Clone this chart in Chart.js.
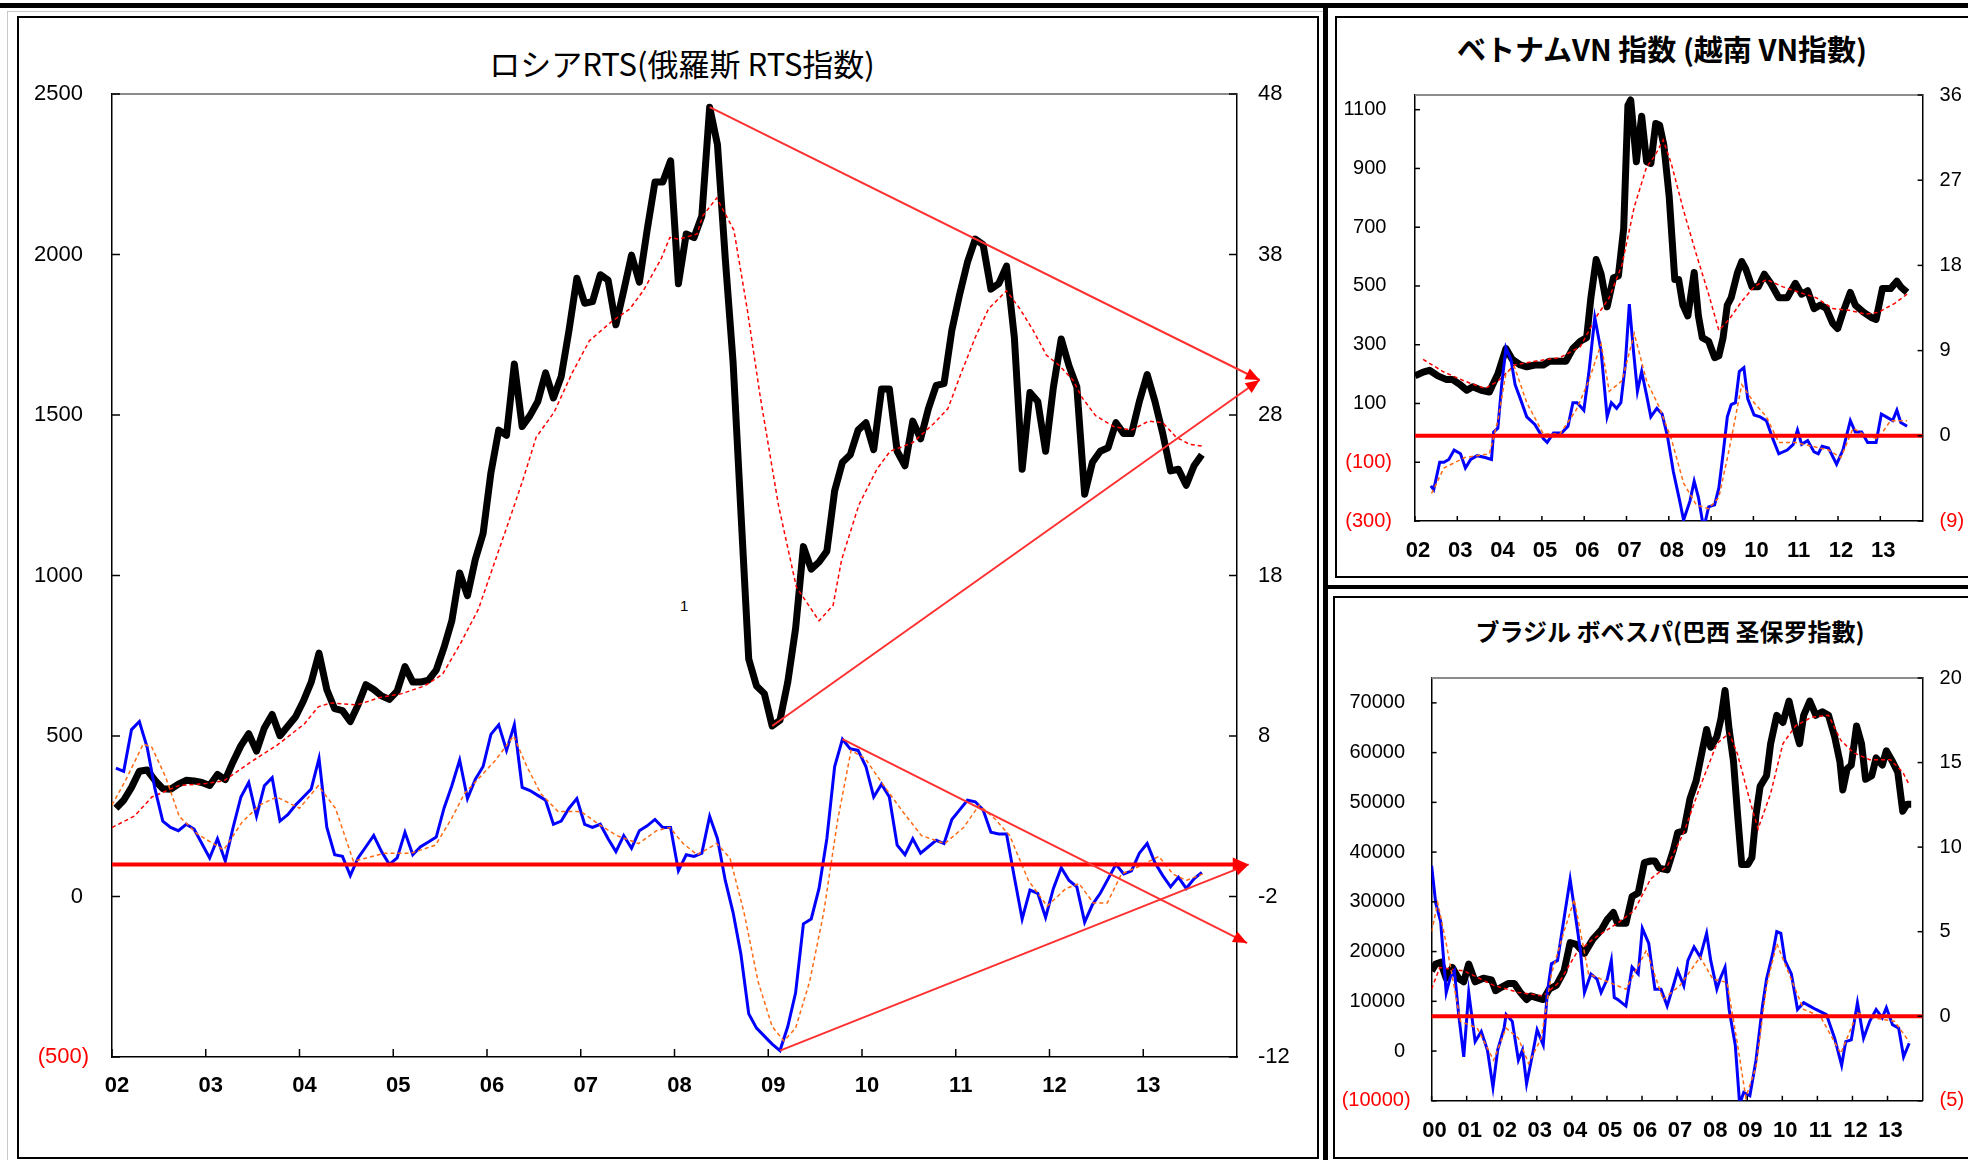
<!DOCTYPE html>
<html lang="ja">
<head>
<meta charset="utf-8">
<title>RTS / VN / Bovespa</title>
<script src="https://cdn.jsdelivr.net/npm/chart.js@4.4.1/dist/chart.umd.min.js"></script>
<style>
  html, body { margin: 0; padding: 0; background: #fff; }
  body { width: 1968px; height: 1160px; position: relative; overflow: hidden; }
  .line { position: absolute; background: #000; }
  .frame { position: absolute; box-sizing: border-box; }
  .title { position: absolute; transform: translateX(-50%); white-space: nowrap; font-family: "Noto Sans CJK JP", sans-serif; color: #000; line-height: 1; }
  canvas { position: absolute; }
</style>
</head>
<body>
<div class="line" style="left:0;top:3px;width:1968px;height:5px"></div>
<div class="frame" style="left:7px;top:11px;width:1317px;height:1160px;border:1px solid #c8c8c8"></div>
<div class="frame" style="left:17px;top:16px;width:1302px;height:1143px;border:2px solid #000"></div>
<div class="line" style="left:1323px;top:8px;width:5px;height:1152px"></div>
<div class="frame" style="left:1335px;top:16px;width:700px;height:562px;border:2px solid #000"></div>
<div class="line" style="left:1323px;top:585px;width:645px;height:4px"></div>
<div class="frame" style="left:1333px;top:596px;width:700px;height:563px;border:2px solid #000"></div>

<div class="title" style="left:682px;top:47px;font-size:31px;">ロシアRTS(俄羅斯 RTS指数)</div>
<div class="title" style="left:1662px;top:34px;font-size:29px;font-weight:bold;">ベトナムVN 指数 (越南 VN指數)</div>
<div class="title" style="left:1670px;top:619px;font-size:24px;font-weight:bold;">ブラジル ボベスパ(巴西 圣保罗指數)</div>
<div style="position:absolute;left:680px;top:597px;font:15px 'Liberation Sans',sans-serif;color:#000;">1</div>

<canvas id="rts" width="1290" height="1130" style="left:20px;top:20px"></canvas>
<canvas id="vn" width="630" height="515" style="left:1338px;top:60px"></canvas>
<canvas id="br" width="630" height="510" style="left:1338px;top:645px"></canvas>

<script>
// ---- axis labels / ticks ----
const rtsYears = ['02','03','04','05','06','07','08','09','10','11','12','13'];
const vnYears = ['02','03','04','05','06','07','08','09','10','11','12','13'];
const brYears = ['00','01','02','03','04','05','06','07','08','09','10','11','12','13'];
const rtsLeftTicks = [-500, 0, 500, 1000, 1500, 2000, 2500];
const rtsRightTicks = [-12, -2, 8, 18, 28, 38, 48];
const vnLeftTicks = [-300, -100, 100, 300, 500, 700, 900, 1100];
const vnRightTicks = [-9, 0, 9, 18, 27, 36];
const brLeftTicks = [-10000, 0, 10000, 20000, 30000, 40000, 50000, 60000, 70000];
const brRightTicks = [-5, 0, 5, 10, 15, 20];

// ---- Russia RTS, monthly from Jan 2002 ----
const rtsClose = [275,300,340,390,394,362,336,334,350,362,360,355,
  346,380,364,420,470,507,453,525,567,501,530,560,
  609,668,758,644,585,579,545,597,660,645,625,614,
  640,716,668,668,674,705,776,859,1008,937,1050,1131,
  1320,1453,1437,1659,1464,1498,1542,1631,1553,1620,1764,1926,
  1848,1853,1937,1920,1781,1887,1998,1914,2076,2226,2226,2292,
  1909,2064,2053,2120,2459,2342,1987,1664,1198,740,656,632,
  531,549,668,835,1090,1020,1042,1076,1264,1353,1376,1453,
  1476,1392,1581,1581,1387,1342,1481,1426,1520,1592,1598,1764,
  1876,1976,2048,2031,1892,1909,1964,1742,1331,1570,1542,1387,
  1587,1737,1653,1587,1253,1353,1387,1398,1476,1442,1442,1542,
  1626,1542,1442,1326,1331,1281,1342,1376];
const rtsMom = [6.0,5.8,8.4,8.9,7.3,4.7,2.7,2.3,2.1,2.5,2.2,1.3,
  0.4,1.6,0.2,2.3,4.2,5.1,3.0,4.9,5.4,2.7,3.1,3.7,
  4.2,4.7,6.6,2.3,0.6,0.5,-0.7,0.4,1.1,1.8,0.8,0.0,
  0.4,2.0,0.6,1.1,1.4,1.7,3.5,4.9,6.5,4.1,5.3,6.1,
  8.1,8.7,7.1,8.7,4.8,4.6,4.3,4.0,2.5,2.7,3.5,4.1,
  2.5,2.3,2.5,1.6,0.8,1.8,1.0,2.1,2.4,2.8,2.3,2.3,
  -0.4,0.6,0.5,0.7,3.0,1.6,-1.0,-3.0,-5.6,-9.3,-10.2,-10.7,
  -11.2,-11.6,-10.1,-8.0,-3.7,-3.4,-1.5,1.6,6.1,7.8,7.2,7.1,
  6.1,4.2,5.0,4.2,1.2,0.6,1.6,0.7,1.1,1.5,1.3,2.8,
  3.4,4.0,3.9,3.4,2.0,1.9,1.9,-0.8,-3.4,-1.6,-1.8,-3.3,
  -1.5,-0.2,-1.0,-1.4,-3.6,-2.5,-1.8,-0.9,0.0,-0.6,-0.4,0.7,
  1.3,0.1,-0.7,-1.4,-0.8,-1.5,-0.9,-0.5];
// [month since Jan 2002, value]
const rtsMa = [[0,215],[2.9,251],[5.1,310],[8.6,346],[12,352],[14.3,360],[17.7,418],[21.1,471],[24.6,537],[26.4,591],[28,603],[31.4,597],[34.3,620],[37.1,632],[40,656],[42.3,692],[44.6,788],[46.9,895],[49.1,1050],[50.9,1176],[52.6,1298],[54.3,1431],[56.6,1509],[58.9,1631],[61.1,1731],[64,1792],[66.3,1831],[68,1887],[70.3,1987],[71.4,2053],[72.6,2048],[74.9,2064],[75.6,2120],[77.4,2176],[79.6,2076],[81.3,1831],[83,1553],[85.3,1220],[87.6,964],[90.5,859],[92.3,907],[93.4,1050],[95.6,1220],[97.9,1331],[99.6,1387],[102.5,1414],[105.3,1476],[107,1520],[108.7,1631],[110.5,1742],[112.2,1831],[114.5,1887],[116.2,1831],[117.9,1764],[119.6,1687],[121.3,1653],[123,1609],[124.2,1553],[125.9,1498],[128.2,1464],[130.5,1453],[132.7,1481],[134.5,1476],[136.2,1431],[137.9,1409],[139.6,1403]];
const rtsMomMa = [[0,3.7],[1.7,5.2],[4,7.5],[5.1,7.3],[6.9,5.4],[8.6,3.0],[10.9,1.9],[14.3,0.9],[16.6,2.6],[18.9,3.7],[21.1,4.2],[24,3.5],[26.4,4.9],[28.6,3.5],[30.9,0.2],[32.6,0.4],[34.9,0.7],[38.3,0.7],[41.4,1.2],[43.4,2.8],[45.1,4.4],[47.4,5.6],[49.1,6.5],[51.4,8.0],[53.1,6.1],[54.9,4.4],[57.1,3.3],[60,3.3],[62.3,2.5],[64.6,1.8],[67.4,1.3],[69.7,2.1],[71.4,2.3],[73.1,1.3],[74.9,0.6],[77.4,1.3],[79.1,0.4],[80.9,-3.0],[82.7,-7.3],[84.5,-10.1],[86,-11.0],[87.5,-10.2],[89.3,-7.3],[91.1,-3.0],[92.9,2.8],[94.6,7.1],[96.4,6.6],[98.8,4.9],[101.2,3.3],[103.6,1.8],[106.6,1.3],[109,2.3],[111,3.7],[113.1,2.8],[114.9,1.8],[117.3,-1.0],[119.7,-2.6],[122.1,-1.5],[123.8,-1.2],[125.6,-2.4],[127.4,-2.4],[129.2,-0.6],[131.6,-0.1],[134,0.5],[135.8,-0.6],[137.5,-1.0],[139.6,-0.6]];
// triangle trend lines [month, value]
const rtsUpperTrend = [[76.5, 2459], [146.9, 1609]];
const rtsLowerTrend = [[84.5, 531], [146.9, 1609]];
const momUpperTrend = [[93.5, 7.8], [145.3, -4.9]];
const momLowerTrend = [[85.5, -11.6], [145.5, 0]];

// ---- Vietnam VN index [month since Jan 2002, value] ----
const vnClose = [[0,194],[2.3,207],[4.1,213],[6.5,194],[8.8,182],[10.6,182],[12.9,163],[14.7,145],[16.4,157],[18.8,145],[21.1,139],[22,163],[23.5,200],[25.8,287],[27.6,250],[29.9,231],[31.7,225],[34,231],[36.4,231],[38.1,244],[40.5,244],[42.8,244],[44.8,287],[46.9,312],[48.7,324],[49.9,460],[51.4,590],[52.8,540],[54.5,429],[56.3,528],[57.7,534],[59.2,695],[60.4,1115],[61.2,1133],[62.8,923],[64.3,1078],[65.7,923],[66.9,917],[68.3,1053],[69.4,1047],[70.6,979],[72.1,806],[73.7,522],[74.8,522],[76,435],[77.4,398],[79.2,546],[80.4,398],[81.5,324],[83.3,312],[85,256],[86.2,262],[87.4,324],[88.6,435],[89.7,460],[91.5,546],[92.7,583],[93.8,559],[95.6,497],[97.4,497],[99.1,540],[100.9,509],[103.2,460],[105.6,460],[107.9,509],[109.7,472],[111.4,484],[113.2,423],[115,435],[116.7,423],[118.5,373],[119.9,355],[121.4,410],[123.5,478],[124.9,435],[127.3,410],[129.6,392],[130.8,386],[132.6,491],[134.9,491],[136.7,516],[137.8,497],[139.6,478]];
const vnMa = [[2.3,250],[8.2,207],[14.1,176],[19.9,151],[23.5,176],[28.2,231],[34,244],[41.1,256],[46.9,293],[51.6,398],[55.1,460],[58.7,571],[62.2,769],[65.7,905],[68,942],[70.4,997],[72.7,917],[76.2,756],[79.8,608],[83.3,472],[86.2,349],[89.1,386],[92.7,448],[96.2,497],[99.7,522],[104.4,497],[109.1,478],[113.8,460],[118.5,423],[123.2,417],[127.9,404],[131.4,410],[136.1,441],[139.6,472]];
const vnMom = [[4.5,-5.3],[5.3,-5.7],[7,-2.8],[8.2,-2.8],[9.6,-2.5],[11.1,-1.5],[12.9,-1.9],[14.3,-3.4],[15.8,-2.5],[17.6,-2.1],[19.9,-2.3],[21.7,-2.5],[22.3,0.4],[23.5,0.8],[24.6,5.4],[25.8,9.3],[27.2,8.1],[28.4,5.4],[29.9,3.9],[31.7,2.0],[34,1.2],[36.4,-0.3],[37.5,-0.7],[39.3,0.3],[41.6,0.3],[43.4,1.0],[44.8,3.5],[46,3.5],[47.9,2.7],[49.3,6.6],[51,12.5],[52.8,8.9],[54.5,2.0],[55.7,3.5],[57.2,2.9],[58.4,3.5],[59.6,7.3],[60.8,13.9],[62,8.9],[63.1,4.7],[64.3,6.8],[65.7,4.3],[66.9,2.0],[68.6,2.9],[70.1,2.3],[71.6,0.0],[73.3,-3.8],[75.1,-6.9],[76.2,-8.9],[78,-6.9],[79.2,-4.8],[80.4,-6.5],[81.9,-9.8],[83.3,-7.5],[85,-7.3],[86.2,-5.5],[87.4,-1.9],[88.6,2.0],[89.7,3.3],[90.9,3.5],[92,6.8],[93.3,7.2],[94.4,3.9],[96.2,2.2],[97.9,2.0],[99.7,1.6],[101.5,-0.3],[103.2,-1.9],[105.6,-1.5],[107.3,-0.9],[108.5,0.6],[109.7,-0.9],[111.4,-0.5],[113.2,-1.7],[114.4,-1.9],[115.5,-1.1],[117.3,-1.3],[119.6,-3.0],[121.4,-1.5],[123.5,1.6],[124.9,0.4],[126.7,0.4],[128.4,-0.7],[130.8,-0.7],[132.3,2.3],[133.7,2.0],[135.5,1.6],[136.7,2.7],[137.8,1.4],[139.6,1.0]];
const vnMomMa = [[4.7,-6.1],[8.2,-3.4],[14.1,-2.3],[21.1,-1.9],[23.5,1.6],[25.8,6.6],[28.2,7.3],[31.7,3.5],[36.4,0.2],[41.1,0.2],[45.7,2.7],[49.3,5.8],[52.8,9.7],[55.1,4.7],[58.7,5.8],[62.2,10.8],[65.7,5.8],[69.2,3.1],[72.7,-0.3],[76.2,-5.0],[79.8,-7.3],[83.3,-7.7],[86.2,-6.5],[89.1,-1.5],[92.7,5.4],[96.2,3.5],[99.7,2.0],[103.2,-0.7],[107.9,-0.7],[112.6,-1.1],[117.3,-1.5],[120.8,-2.3],[124.3,0.8],[127.9,0.0],[131.4,-0.3],[134.9,1.6],[139.6,1.6]];

// ---- Brazil Bovespa [month since Jan 2000, value] ----
const brClose = [[0,16070],[1.4,17500],[3.1,17860],[5,14640],[7.1,16790],[9.2,14640],[11,13930],[12.7,17500],[14.9,13930],[17.7,14640],[20.5,14290],[21.9,12140],[24,12860],[26.2,13570],[28.3,13570],[30.4,11790],[32.5,10360],[33.9,11070],[36.1,10710],[38.2,10360],[40.3,12500],[42.7,13210],[45.3,16070],[47.4,21790],[49.5,21430],[52.3,19640],[55.2,22500],[58,24290],[60.1,26430],[62.2,27860],[63.6,25710],[66.5,25710],[68.6,31070],[70.7,31790],[72.8,37860],[75,38210],[76.4,38210],[77.8,36790],[80.6,36430],[82.7,40360],[84.2,43930],[86.3,44290],[88.4,50710],[90.5,54290],[92.6,60360],[94.1,64640],[95.5,61070],[97.6,63210],[99,66790],[100.4,72500],[101.8,64640],[103.3,58210],[104.7,47500],[106.1,37500],[108.2,37500],[109.6,38930],[111,47500],[112.4,53210],[114.6,55360],[116,61790],[118.1,67500],[120.2,66070],[122.3,70360],[124.5,64640],[125.9,61790],[127.3,67500],[129.4,70360],[131.5,67500],[133.7,68210],[135.8,67500],[137.9,63210],[139.7,58210],[140.7,52500],[142.2,56790],[143.6,57500],[145.4,65360],[147.1,61790],[148.5,54640],[150.6,55360],[152.1,58930],[154.2,57500],[155.6,60360],[157.7,58210],[159.5,56070],[161.2,48210],[162.7,49640],[164.1,49640]];
const brMa = [[0,12500],[2.8,16790],[11.3,16070],[21.2,13210],[29.7,11790],[38.2,11070],[43.8,13930],[49.5,19640],[55.2,22500],[63.6,25710],[69.3,28210],[75,34640],[80.6,37140],[86.3,43930],[91.9,53210],[97.6,61790],[101.8,63930],[104.7,59640],[108.9,50360],[111.7,44640],[116,51790],[120.2,61790],[124.5,65360],[130.1,67140],[135.8,67500],[140,62500],[144.3,60000],[149.9,58570],[157,58570],[161.2,56070],[163.4,53570]];
const brMom = [[0,8.9],[1.4,6.7],[3.1,5.6],[5,1.4],[6.4,2.3],[7.8,2.7],[9.2,0.2],[11,-2.4],[12.7,1.4],[14.9,-1.5],[17,-0.9],[19.1,-2.0],[21,-4.2],[22.6,-2.0],[24.8,-0.7],[25.5,0.1],[27.6,-0.3],[29.7,-2.6],[31.1,-2.0],[32.5,-4.0],[34.7,-2.1],[36.1,-0.8],[38.2,-1.7],[39.6,1.4],[41,3.1],[43.1,3.3],[44.6,5.0],[47.4,8.1],[49.5,5.6],[50.9,3.9],[52.3,1.4],[54.5,2.5],[56.6,2.2],[58,1.4],[60.1,2.2],[61.5,3.3],[62.5,1.1],[63.6,1.0],[66.5,0.6],[68.6,2.9],[70.7,2.5],[72.1,5.2],[74.3,4.3],[76.4,1.6],[78.5,1.6],[80.6,0.6],[82.7,1.8],[84.2,2.7],[86.3,1.8],[87.7,3.3],[89.8,4.1],[91.9,3.5],[94.1,4.9],[95.5,3.3],[97.6,1.6],[98.7,2.2],[100.4,2.9],[101.8,0.4],[103.9,-1.7],[105.4,-5.2],[106.8,-4.5],[108.9,-4.7],[111,-2.6],[113.2,0.6],[114.6,2.2],[116.7,3.7],[118.1,5.0],[119.5,4.9],[120.9,3.3],[123.1,2.5],[125.2,0.4],[127.3,0.8],[129.4,0.6],[131.5,0.4],[135.1,0.1],[137.9,-1.3],[140.3,-2.9],[141.7,-1.5],[143.6,-1.4],[145.7,0.8],[147.8,-1.3],[149.9,-0.3],[152.1,0.4],[154.2,-0.1],[155.6,0.5],[157.7,-0.5],[159.8,-0.7],[161.5,-2.4],[163.4,-1.6]];
const brMomMa = [[0,5.0],[2.1,6.7],[5,4.3],[9.9,-0.3],[15.6,-0.7],[21.2,-2.6],[25.5,-0.7],[29.7,-1.3],[33.2,-2.8],[37.5,-1.3],[41,2.5],[45.3,5.0],[48.8,6.9],[53.7,2.5],[60.8,2.0],[66.5,1.6],[73.5,3.9],[79.2,1.0],[84.9,1.8],[91.9,3.5],[96.2,2.2],[101.1,2.0],[104.7,-1.7],[107.5,-4.8],[111,-3.0],[114.6,1.8],[118.1,4.3],[122.3,2.5],[127.3,0.4],[133,0.0],[140,-2.2],[145.7,0.2],[151.3,-0.1],[158.4,-0.3],[163.4,-1.5]];

// inward tick marks + grey top border of the plot area
const frameMarks = {
  id: 'frameMarks',
  afterDraw(chart, args, o) {
    const ctx = chart.ctx, a = chart.chartArea;
    ctx.save();
    ctx.strokeStyle = '#8c8c8c';
    ctx.lineWidth = 2;
    ctx.beginPath(); ctx.moveTo(a.left, a.top); ctx.lineTo(a.right, a.top); ctx.stroke();
    ctx.strokeStyle = '#000';
    ctx.lineWidth = 1.5;
    Object.values(chart.scales).forEach(s => {
      s.ticks.forEach(t => {
        const p = s.getPixelForValue(t.value);
        ctx.beginPath();
        if (s.axis === 'x') { ctx.moveTo(p, a.bottom); ctx.lineTo(p, a.bottom - o.len); }
        else if (s.position === 'left') { ctx.moveTo(a.left, p); ctx.lineTo(a.left + o.len, p); }
        else { ctx.moveTo(a.right, p); ctx.lineTo(a.right - o.len, p); }
        ctx.stroke();
      });
    });
    ctx.restore();
  }
};

function arrowHead(ctx, x1, y1, x2, y2, len, half) {
  const a = Math.atan2(y2 - y1, x2 - x1), c = Math.cos(a), s = Math.sin(a);
  ctx.beginPath();
  ctx.moveTo(x2, y2);
  ctx.lineTo(x2 - len * c + half * s, y2 - len * s - half * c);
  ctx.lineTo(x2 - len * c - half * s, y2 - len * s + half * c);
  ctx.closePath();
  ctx.fill();
}

// zero line and the triangle trend lines
const refLines = {
  id: 'refLines',
  afterDatasetsDraw(chart, args, o) {
    const ctx = chart.ctx, xs = chart.scales.x, a = chart.chartArea;
    ctx.save();
    ctx.fillStyle = '#ff0000';
    if (o.zero) {
      const ys = chart.scales[o.zero.axis];
      const y = ys.getPixelForValue(o.zero.value);
      const x2 = o.zero.to != null ? xs.getPixelForValue(o.zero.to) : a.right;
      ctx.strokeStyle = '#ff0000';
      ctx.lineWidth = o.zero.width;
      ctx.beginPath(); ctx.moveTo(a.left, y); ctx.lineTo(o.zero.arrow ? x2 - 8 : x2, y); ctx.stroke();
      if (o.zero.arrow) arrowHead(ctx, a.left, y, x2, y, 16, 7);
    }
    (o.trends || []).forEach(t => {
      const ys = chart.scales[t.axis];
      const x1 = xs.getPixelForValue(t.pts[0][0]), y1 = ys.getPixelForValue(t.pts[0][1]);
      const x2 = xs.getPixelForValue(t.pts[1][0]), y2 = ys.getPixelForValue(t.pts[1][1]);
      ctx.strokeStyle = '#ff3030';
      ctx.lineWidth = 2;
      ctx.beginPath(); ctx.moveTo(x1, y1); ctx.lineTo(x2, y2); ctx.stroke();
      arrowHead(ctx, x1, y1, x2, y2, 14, 6);
    });
    ctx.restore();
  }
};

const toPts = list => list.map(p => ({ x: p[0], y: p[1] }));
const monthly = list => list.map((v, i) => ({ x: i + 0.5, y: v }));
const paren = v => v < 0 ? '(' + Math.abs(v) + ')' : v + ' ';
const redNeg = c => (c.tick && c.tick.value < 0) ? '#ff0000' : '#000000';

function makeChart(id, c) {
  const xTicks = c.xLabels.map((_, i) => i * 12);
  const numFont = { family: 'Liberation Sans', size: c.font };
  return new Chart(document.getElementById(id), {
    type: 'line',
    data: {
      datasets: [
        { data: c.momMa, yAxisID: 'y2', borderColor: '#ff6a13', borderWidth: 1.5, borderDash: [4, 3], order: 1 },
        { data: c.mom, yAxisID: 'y2', borderColor: '#0000ff', borderWidth: 3, order: 2 },
        { data: c.ma, yAxisID: 'y', borderColor: '#ff0000', borderWidth: 1.5, borderDash: [4, 3], order: 3 },
        { data: c.close, yAxisID: 'y', borderColor: '#000000', borderWidth: 7, borderJoinStyle: 'round', order: 4 }
      ]
    },
    options: {
      responsive: false,
      animation: false,
      devicePixelRatio: 1,
      layout: { padding: c.padding },
      elements: { point: { radius: 0 }, line: { tension: 0, fill: false } },
      plugins: {
        legend: { display: false },
        tooltip: { enabled: false },
        frameMarks: { len: c.tickLen },
        refLines: { zero: c.zero, trends: c.trends }
      },
      scales: {
        x: {
          type: 'linear', min: 0, max: c.xMax,
          grid: { display: false, drawTicks: false },
          border: { color: '#000', width: 1.5 },
          afterBuildTicks: s => { s.ticks = xTicks.map(v => ({ value: v })); },
          afterFit: s => { s.height = c.xHeight; },
          ticks: {
            autoSkip: false, maxRotation: 0, padding: c.xPad, labelOffset: c.xOffset, color: '#000',
            font: { family: 'Liberation Sans', size: 22, weight: 'bold' },
            callback: (v, i) => c.xLabels[i]
          }
        },
        y: {
          position: 'left', min: c.left.min, max: c.left.max,
          grid: { display: false, drawTicks: false },
          border: { color: '#000', width: 1.5 },
          afterBuildTicks: s => { s.ticks = c.left.ticks.map(v => ({ value: v })); },
          afterFit: s => { s.width = c.left.width; },
          ticks: { padding: c.left.pad, font: numFont, color: redNeg, callback: v => paren(v) }
        },
        y2: {
          position: 'right', min: c.right.min, max: c.right.max,
          grid: { display: false, drawTicks: false },
          border: { color: '#000', width: 1.5 },
          afterBuildTicks: s => { s.ticks = c.right.ticks.map(v => ({ value: v })); },
          afterFit: s => { s.width = c.right.width; },
          ticks: {
            padding: c.right.pad, font: numFont,
            color: c.right.paren ? redNeg : '#000000',
            callback: v => c.right.paren && v < 0 ? '(' + Math.abs(v) + ')' : String(v)
          }
        }
      }
    },
    plugins: [frameMarks, refLines]
  });
}

makeChart('rts', {
  close: monthly(rtsClose), ma: toPts(rtsMa), mom: monthly(rtsMom), momMa: toPts(rtsMomMa),
  xMax: 144, xLabels: rtsYears, xHeight: 50, xPad: 16, xOffset: 5, font: 22, tickLen: 8,
  padding: { left: 0, right: 0, top: 74, bottom: 43 },
  left: { min: -500, max: 2500, ticks: rtsLeftTicks, width: 92, pad: 23 },
  right: { min: -12, max: 48, ticks: rtsRightTicks, width: 73, pad: 21, paren: false },
  zero: { axis: 'y2', value: 0, to: 145.5, width: 4, arrow: true },
  trends: [
    { axis: 'y', pts: rtsUpperTrend },
    { axis: 'y', pts: rtsLowerTrend },
    { axis: 'y2', pts: momUpperTrend },
    { axis: 'y2', pts: momLowerTrend }
  ]
});

makeChart('vn', {
  close: toPts(vnClose), ma: toPts(vnMa), mom: toPts(vnMom), momMa: toPts(vnMomMa),
  xMax: 144, xLabels: vnYears, xHeight: 40, xPad: 17, xOffset: 3, font: 20, tickLen: 5,
  padding: { left: 0, right: 0, top: 19, bottom: 14 },
  left: { min: -300, max: 1150, ticks: vnLeftTicks, width: 77, pad: 23 },
  right: { min: -9, max: 36, ticks: vnRightTicks, width: 45.4, pad: 17, paren: true },
  zero: { axis: 'y2', value: 0, width: 4, arrow: false },
  trends: []
});

makeChart('br', {
  close: toPts(brClose), ma: toPts(brMa), mom: toPts(brMom), momMa: toPts(brMomMa),
  xMax: 168, xLabels: brYears, xHeight: 40, xPad: 17, xOffset: 3, font: 20, tickLen: 5,
  padding: { left: 0, right: 0, top: 13.4, bottom: 14.2 },
  left: { min: -10000, max: 75000, ticks: brLeftTicks, width: 93.6, pad: 21 },
  right: { min: -5, max: 20, ticks: brRightTicks, width: 45.4, pad: 17, paren: true },
  zero: { axis: 'y2', value: 0, width: 4, arrow: false },
  trends: []
});
</script>
</body>
</html>
